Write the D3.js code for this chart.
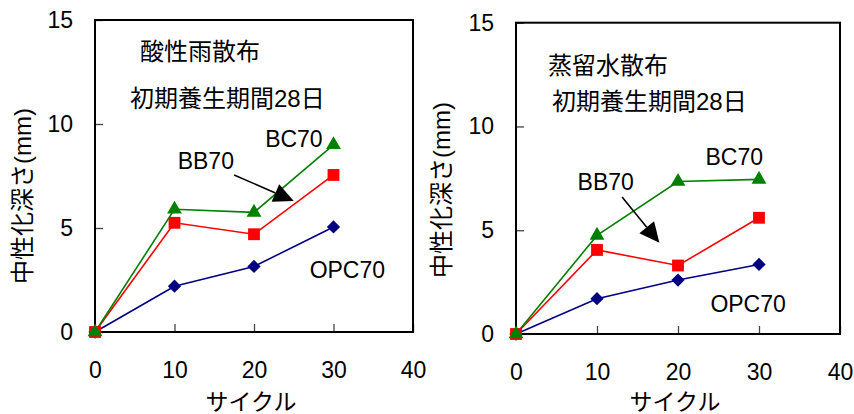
<!DOCTYPE html>
<html>
<head>
<meta charset="utf-8">
<script src="https://cdn.jsdelivr.net/npm/d3@7/dist/d3.min.js"></script>
<style>
  html, body { margin: 0; padding: 0; background: #fff; }
  svg { display: block; }
  text { font-family: "Liberation Sans", "Noto Sans CJK JP", sans-serif; fill: #000; }
</style>
</head>
<body>
<svg id="chart" width="854" height="414"></svg>
<script>
// Carbonation depth vs. wet/dry cycles, two exposure conditions
const cycles = [0, 10, 20, 30];
const xTicks = [0, 10, 20, 30, 40];
const yTicks = [0, 5, 10, 15];

// acid rain spraying
const acidOPC70 = [0, 2.2, 3.15, 5.05];
const acidBB70  = [0, 5.25, 4.7, 7.55];
const acidBC70  = [0, 5.9, 5.75, 9.0];

// distilled water spraying
const waterOPC70 = [0, 1.7, 2.6, 3.35];
const waterBB70  = [0, 4.05, 3.3, 5.6];
const waterBC70  = [0, 4.75, 7.35, 7.45];

const seriesNames = ["OPC70", "BB70", "BC70"];
const seriesColors = ["#000080", "#ff0000", "#008000"];
const seriesSymbols = ["diamond", "square", "triangle"];

const yTitle = "中性化深さ(mm)";
const xTitle = "サイクル";

// series label anchors (x, y in data units) per panel
const acidLabelPos  = [[27.0, 2.62], [10.4, 7.85], [21.4, 8.88]];
const waterLabelPos = [[24.0, 1.08], [7.6, 6.95], [23.4, 8.12]];

// leader arrows from the BB70 label: [x0, y0, x1, y1] in data units
const acidArrow  = [17.5, 7.55, 25.0, 6.3];
const waterArrow = [13.1, 6.6, 17.7, 4.4];

const panels = [
  {
    box: { left: 95, top: 20, right: 413, bottom: 332 },
    titles: ["酸性雨散布", "初期養生期間28日"],
    titlePos: [[45, 31.5], [35, 78]],
    values: [acidOPC70, acidBB70, acidBC70],
    labelPos: acidLabelPos,
    arrow: acidArrow,
    yTitlePos: [22, 196],
    xTitleY: 410
  },
  {
    box: { left: 516, top: 22.7, right: 840, bottom: 334 },
    titles: ["蒸留水散布", "初期養生期間28日"],
    titlePos: [[32, 43], [36, 79]],
    values: [waterOPC70, waterBB70, waterBC70],
    labelPos: waterLabelPos,
    arrow: waterArrow,
    yTitlePos: [441, 190],
    xTitleY: 410
  }
];

const svg = d3.select("#chart");

function markerPath(kind) {
  if (kind === "diamond") return d3.symbol(d3.symbolSquare, 88)();
  if (kind === "square") return d3.symbol(d3.symbolSquare, 140)();
  return d3.symbol(d3.symbolTriangle, 95)();
}

panels.forEach(p => {
  const b = p.box;
  const x = d3.scaleLinear().domain([0, 40]).range([b.left, b.right]);
  const y = d3.scaleLinear().domain([0, 15]).range([b.bottom, b.top]);
  const g = svg.append("g");

  // y axis: inward ticks, labels to the left
  const yAxis = g.append("g")
    .attr("transform", `translate(${b.left},0)`)
    .call(d3.axisLeft(y).tickValues(yTicks).tickSizeInner(-8).tickSizeOuter(0).tickPadding(22));
  yAxis.select(".domain").remove();
  yAxis.selectAll("line").attr("stroke", "#444").attr("stroke-width", 1.3);
  yAxis.selectAll("text").attr("font-size", 23).attr("fill", "#000");

  // x axis: inward ticks, labels below
  const xAxis = g.append("g")
    .attr("transform", `translate(0,${b.bottom})`)
    .call(d3.axisBottom(x).tickValues(xTicks).tickSizeInner(-8).tickSizeOuter(0).tickPadding(30));
  xAxis.select(".domain").remove();
  xAxis.selectAll("line").attr("stroke", "#444").attr("stroke-width", 1.3);
  xAxis.selectAll("text").attr("font-size", 23).attr("fill", "#000");

  // frame
  g.append("rect")
    .attr("x", b.left).attr("y", b.top)
    .attr("width", b.right - b.left).attr("height", b.bottom - b.top)
    .attr("fill", "none").attr("stroke", "#000").attr("stroke-width", 2);

  // series lines and markers
  const line = d3.line().x((d, i) => x(cycles[i])).y(d => y(d));
  p.values.forEach((vals, si) => {
    g.append("path")
      .datum(vals)
      .attr("d", line)
      .attr("fill", "none")
      .attr("stroke", seriesColors[si])
      .attr("stroke-width", 1.6);
  });
  p.values.forEach((vals, si) => {
    g.selectAll(null)
      .data(vals)
      .join("path")
      .attr("d", markerPath(seriesSymbols[si]))
      .attr("transform", (d, i) =>
        `translate(${x(cycles[i])},${y(d)})` + (seriesSymbols[si] === "diamond" ? " rotate(45)" : ""))
      .attr("fill", seriesColors[si]);
  });

  // series labels
  p.labelPos.forEach((pos, si) => {
    g.append("text")
      .attr("x", x(pos[0])).attr("y", y(pos[1]))
      .attr("font-size", 23)
      .text(seriesNames[si]);
  });

  // leader arrow
  const [ax0, ay0, ax1, ay1] = p.arrow;
  const x0 = x(ax0), y0 = y(ay0), x1 = x(ax1), y1 = y(ay1);
  const len = Math.hypot(x1 - x0, y1 - y0);
  const ux = (x1 - x0) / len, uy = (y1 - y0) / len;
  const headL = 20, headW = 9.5;
  const bx = x1 - ux * headL, by = y1 - uy * headL;
  g.append("line")
    .attr("x1", x0).attr("y1", y0).attr("x2", bx).attr("y2", by)
    .attr("stroke", "#000").attr("stroke-width", 1.6);
  g.append("path")
    .attr("d", `M${x1},${y1}L${bx - uy * headW},${by + ux * headW}L${bx + uy * headW},${by - ux * headW}Z`)
    .attr("fill", "#000");

  // condition titles
  p.titles.forEach((t, i) => {
    g.append("text")
      .attr("x", b.left + p.titlePos[i][0])
      .attr("y", b.top + p.titlePos[i][1])
      .attr("dominant-baseline", "central")
      .attr("font-size", 24)
      .text(t);
  });

  // axis titles
  g.append("text")
    .attr("transform", `translate(${p.yTitlePos[0]},${p.yTitlePos[1]}) rotate(-90)`)
    .attr("text-anchor", "middle")
    .attr("dominant-baseline", "central")
    .attr("font-size", 24)
    .text(yTitle);
  g.append("text")
    .attr("x", (b.left + b.right) / 2 - 3)
    .attr("y", p.xTitleY)
    .attr("text-anchor", "middle")
    .attr("font-size", 23)
    .text(xTitle);
});
</script>
</body>
</html>
